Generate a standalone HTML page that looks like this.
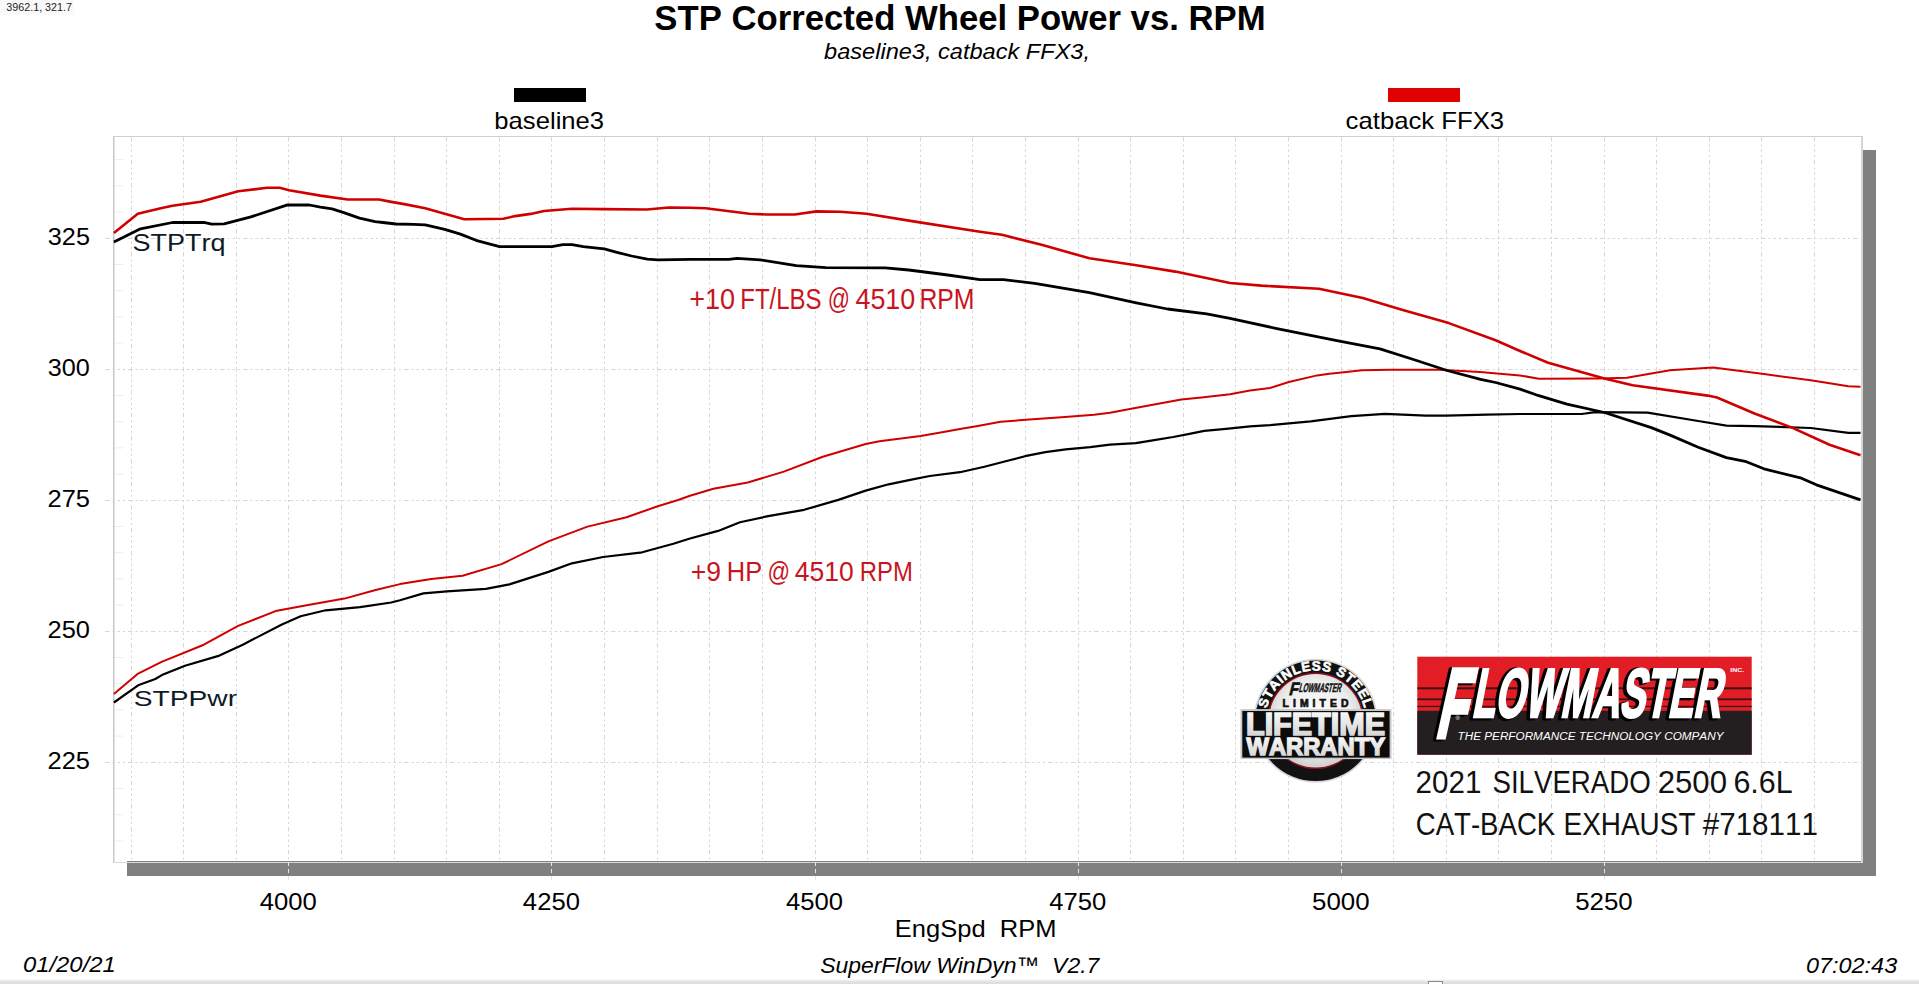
<!DOCTYPE html><html><head><meta charset="utf-8"><title>STP Corrected Wheel Power vs. RPM</title><style>html,body{margin:0;padding:0;background:#fff;overflow:hidden}svg{display:block}text{font-family:"Liberation Sans",Arial,sans-serif;font-kerning:none}</style></head><body>
<svg width="1919" height="984" viewBox="0 0 1919 984">
<rect width="1919" height="984" fill="#fff"/>
<rect x="0" y="0" width="74" height="15" fill="#f9f9f9"/>
<text x="6.39" y="10.9" font-size="10" fill="#222" textLength="65.55" lengthAdjust="spacingAndGlyphs">3962.1, 321.7</text>
<text x="654.3" y="30" font-size="35" fill="#000" textLength="611.32" lengthAdjust="spacingAndGlyphs" font-weight="bold">STP Corrected Wheel Power vs. RPM</text>
<text x="824.07" y="58.9" font-size="21.7" fill="#000" textLength="265.97" lengthAdjust="spacingAndGlyphs" font-style="italic">baseline3, catback FFX3,</text>
<rect x="514" y="88" width="72" height="14" fill="#000"/>
<rect x="1388" y="88" width="72" height="14" fill="#e00000"/>
<text x="494.35" y="128.8" font-size="23.2" fill="#000" textLength="109.78" lengthAdjust="spacingAndGlyphs">baseline3</text>
<text x="1345.61" y="128.9" font-size="23.2" fill="#000" textLength="158.52" lengthAdjust="spacingAndGlyphs">catback FFX3</text>
<rect x="127" y="150" width="1749" height="726" fill="#808080"/>
<rect x="113" y="136" width="1748" height="725" fill="#fff"/>
<path d="M131.5 137V861M183.5 137V861M236.5 137V861M288.5 137V861M341.5 137V861M394.5 137V861M446.5 137V861M499.5 137V861M551.5 137V861M604.5 137V861M657.5 137V861M709.5 137V861M762.5 137V861M815.5 137V861M867.5 137V861M920.5 137V861M972.5 137V861M1025.5 137V861M1078.5 137V861M1130.5 137V861M1183.5 137V861M1235.5 137V861M1288.5 137V861M1341.5 137V861M1393.5 137V861M1446.5 137V861M1498.5 137V861M1551.5 137V861M1604.5 137V861M1656.5 137V861M1709.5 137V861M1761.5 137V861M1814.5 137V861" stroke="#d6d6d6" stroke-width="1" stroke-dasharray="4.5,3,2,3,2.5,3,2,3" fill="none"/>
<path d="M105 238.5H1861M105 369.5H1861M105 500.5H1861M105 631.5H1861M105 762.5H1861" stroke="#d6d6d6" stroke-width="1" stroke-dasharray="4.5,3,2,3,2.5,3,2,3" fill="none"/>
<path d="M113 159.7h10M113 185.9h10M113 212.1h10M113 264.5h10M113 290.7h10M113 316.9h10M113 343.1h10M113 395.5h10M113 421.7h10M113 447.9h10M113 474.1h10M113 526.5h10M113 552.7h10M113 578.9h10M113 605.1h10M113 657.5h10M113 683.7h10M113 709.9h10M113 736.1h10M113 788.5h10M113 814.7h10M113 840.9h10" stroke="#ececec" stroke-width="1" fill="none"/>
<rect x="1861" y="136" width="2" height="727" fill="#d6d6d6"/><rect x="113" y="862" width="1750" height="1" fill="#d8d8d8"/><rect x="113" y="136" width="1.5" height="726" fill="#c8c8c8"/><rect x="113" y="136" width="1750" height="1" fill="#d0d0d0"/>
<text x="47.84" y="244.5" font-size="23" fill="#000" textLength="42.12" lengthAdjust="spacingAndGlyphs">325</text>
<text x="47.84" y="375.5" font-size="23" fill="#000" textLength="42.04" lengthAdjust="spacingAndGlyphs">300</text>
<text x="47.52" y="506.5" font-size="23" fill="#000" textLength="42.45" lengthAdjust="spacingAndGlyphs">275</text>
<text x="47.52" y="637.5" font-size="23" fill="#000" textLength="42.37" lengthAdjust="spacingAndGlyphs">250</text>
<text x="47.52" y="768.5" font-size="23" fill="#000" textLength="42.45" lengthAdjust="spacingAndGlyphs">225</text>
<text x="259.66" y="910.3" font-size="24.3" fill="#000" textLength="57.09" lengthAdjust="spacingAndGlyphs">4000</text>
<text x="522.86" y="910.3" font-size="24.3" fill="#000" textLength="57.09" lengthAdjust="spacingAndGlyphs">4250</text>
<text x="786.06" y="910.3" font-size="24.3" fill="#000" textLength="57.09" lengthAdjust="spacingAndGlyphs">4500</text>
<text x="1049.26" y="910.3" font-size="24.3" fill="#000" textLength="57.09" lengthAdjust="spacingAndGlyphs">4750</text>
<text x="1312.01" y="910.3" font-size="24.3" fill="#000" textLength="57.55" lengthAdjust="spacingAndGlyphs">5000</text>
<text x="1575.21" y="910.3" font-size="24.3" fill="#000" textLength="57.55" lengthAdjust="spacingAndGlyphs">5250</text>
<text x="894.81" y="936.9" font-size="24.1" fill="#000" textLength="161.69" lengthAdjust="spacingAndGlyphs">EngSpd&#160;&#160;RPM</text>
<text x="820.15" y="972.5" font-size="22.7" fill="#000" textLength="279.14" lengthAdjust="spacingAndGlyphs" font-style="italic">SuperFlow WinDyn™&#160;&#160;V2.7</text>
<text x="22.96" y="972.4" font-size="22.2" fill="#000" textLength="92.85" lengthAdjust="spacingAndGlyphs" font-style="italic">01/20/21</text>
<text x="1805.98" y="972.5" font-size="22.2" fill="#000" textLength="91.22" lengthAdjust="spacingAndGlyphs" font-style="italic">07:02:43</text>
<path d="M288.5 862V882M551.5 862V882M815.5 862V882M1078.5 862V882M1341.5 862V882M1604.5 862V882" stroke="#e6e6e6" stroke-width="1" stroke-dasharray="4,3" fill="none"/>
<polyline points="113.9,702.5 138.1,685.3 155.3,679.0 163.1,674.4 185.0,665.8 219.4,655.6 242.8,644.7 281.9,624.4 300.6,616.2 325.6,610.3 360.0,607.2 391.2,602.5 400.0,600.3 423.4,593.4 446.9,591.4 485.9,588.8 509.4,584.4 548.4,571.9 571.9,563.3 603.1,557.0 642.2,552.3 673.4,543.8 690.0,538.5 718.1,530.9 740.0,522.3 768.1,516.1 804.1,509.8 838.3,499.9 865.7,490.6 888.6,484.3 911.5,479.6 929.8,476.0 960.0,472.2 984.4,466.8 1004.7,461.5 1025.0,456.2 1045.4,452.1 1065.7,449.3 1090.1,447.2 1110.0,444.6 1135.8,443.1 1151.2,440.7 1173.2,437.0 1189.4,433.8 1204.1,430.9 1226.0,428.9 1250.0,426.4 1270.0,425.2 1310.7,421.4 1351.3,416.2 1385.2,413.9 1425.8,415.7 1446.2,415.7 1486.8,414.6 1520.0,414.0 1581.9,414.0 1595.0,412.2 1647.6,412.6 1698.2,421.0 1726.4,425.7 1754.5,426.1 1810.8,428.0 1848.3,432.8 1860.5,432.8" fill="none" stroke="#000" stroke-width="2.2" stroke-linejoin="round"/>
<polyline points="113.9,693.9 138.1,673.6 161.6,661.9 203.8,644.7 238.1,625.9 275.6,611.1 305.3,605.6 344.4,598.6 375.6,590.0 400.0,584.1 431.2,578.9 462.5,575.8 501.6,564.1 548.4,541.4 587.5,526.6 626.6,517.2 657.8,506.2 678.1,500.0 690.0,495.8 713.4,488.8 747.8,482.5 783.8,471.6 822.8,456.8 865.7,444.0 879.5,441.2 920.6,436.1 943.5,432.0 960.0,428.9 976.3,426.2 1000.7,421.7 1029.1,419.6 1061.6,417.2 1077.9,416.0 1094.1,414.7 1110.0,412.7 1132.5,408.5 1181.3,399.5 1201.6,397.5 1230.0,394.2 1250.0,390.6 1270.0,388.0 1288.8,382.0 1317.2,375.4 1329.4,373.8 1341.6,372.6 1362.0,370.2 1390.0,369.8 1439.4,369.8 1480.0,371.9 1520.0,375.4 1538.8,378.8 1598.8,378.4 1626.9,377.8 1670.0,370.3 1713.2,367.5 1763.9,374.1 1810.8,380.3 1848.3,386.3 1860.5,386.7" fill="none" stroke="#d00000" stroke-width="2" stroke-linejoin="round"/>
<polyline points="113.9,242.0 140.5,228.8 172.5,222.5 203.8,222.3 211.6,224.2 224.1,223.8 250.0,217.2 287.5,204.9 309.4,205.0 320.4,207.2 332.1,208.9 343.8,212.6 359.5,218.1 375.1,221.6 382.9,222.5 396.1,224.0 413.5,224.3 425.2,224.9 444.7,229.4 460.4,234.1 476.0,240.3 499.5,246.6 551.9,246.6 562.8,244.6 572.2,244.6 583.2,246.6 604.3,248.9 616.0,252.1 631.6,256.0 647.3,259.1 657.9,259.9 690.0,259.4 729.0,259.4 736.9,258.3 760.3,259.8 796.3,265.6 825.9,267.7 885.3,267.8 908.8,270.0 947.8,275.0 980.0,279.7 1003.4,279.7 1034.7,283.3 1089.4,292.7 1136.3,302.8 1167.5,309.0 1206.6,313.8 1230.0,318.4 1276.9,328.6 1339.4,341.1 1380.0,348.9 1413.5,359.5 1447.1,370.5 1480.6,379.4 1495.6,382.5 1520.0,389.1 1538.8,395.7 1566.9,404.1 1604.4,412.5 1651.3,427.6 1670.1,435.1 1698.2,447.3 1726.4,457.6 1745.1,461.3 1763.9,468.8 1801.4,478.2 1816.4,484.8 1860.5,499.8" fill="none" stroke="#000" stroke-width="2.8" stroke-linejoin="round"/>
<polyline points="113.9,233.0 137.8,213.8 160.8,208.2 172.5,205.8 200.7,201.8 238.2,191.2 267.2,187.8 279.7,187.8 289.1,190.2 320.4,195.6 347.7,199.5 379.0,199.5 390.0,201.6 405.6,204.4 425.2,208.3 444.7,213.8 464.3,219.2 503.4,218.8 515.1,216.1 530.7,213.9 544.0,211.0 571.9,208.8 603.1,209.1 647.0,209.5 668.9,207.5 690.0,207.8 705.6,208.3 749.4,213.8 766.6,214.5 794.7,214.5 816.6,211.4 840.0,211.7 866.6,213.8 916.6,221.9 980.0,231.7 1001.9,234.8 1042.5,245.0 1089.4,258.3 1136.3,265.3 1175.3,271.6 1230.0,283.0 1261.3,285.6 1319.0,288.8 1362.8,298.1 1401.9,309.8 1448.8,323.1 1495.6,340.3 1520.0,351.0 1548.1,362.8 1604.4,378.4 1632.6,385.3 1707.6,395.6 1717.0,397.5 1754.5,413.5 1792.0,427.6 1829.5,444.8 1860.5,455.3" fill="none" stroke="#d00000" stroke-width="2.6" stroke-linejoin="round"/>
<text x="132.57" y="250.6" font-size="23.2" fill="#0d1b26" textLength="92.95" lengthAdjust="spacingAndGlyphs">STPTrq</text>
<text x="133.72" y="706.4" font-size="22.7" fill="#0d1b26" textLength="103.35" lengthAdjust="spacingAndGlyphs">STPPwr</text>
<text x="689.18" y="308.9" font-size="28.6" fill="#c8141e" textLength="45.98" lengthAdjust="spacingAndGlyphs">+10</text><text x="740.23" y="308.9" font-size="28.6" fill="#c8141e" textLength="81.37" lengthAdjust="spacingAndGlyphs">FT/LBS</text><text x="827.68" y="308.9" font-size="28.6" fill="#c8141e" textLength="22.21" lengthAdjust="spacingAndGlyphs">@</text><text x="855.48" y="308.9" font-size="28.6" fill="#c8141e" textLength="59.77" lengthAdjust="spacingAndGlyphs">4510</text><text x="919.47" y="308.9" font-size="28.6" fill="#c8141e" textLength="54.96" lengthAdjust="spacingAndGlyphs">RPM</text>
<text x="690.7" y="581" font-size="28.3" fill="#c8141e" textLength="30.25" lengthAdjust="spacingAndGlyphs">+9</text><text x="726.81" y="581" font-size="28.3" fill="#c8141e" textLength="35.33" lengthAdjust="spacingAndGlyphs">HP</text><text x="767.45" y="581" font-size="28.3" fill="#c8141e" textLength="22.57" lengthAdjust="spacingAndGlyphs">@</text><text x="794.69" y="581" font-size="28.3" fill="#c8141e" textLength="58.94" lengthAdjust="spacingAndGlyphs">4510</text><text x="859.74" y="581" font-size="28.3" fill="#c8141e" textLength="53.12" lengthAdjust="spacingAndGlyphs">RPM</text>
<text x="1415.61" y="793" font-size="31.3" fill="#111" textLength="65.83" lengthAdjust="spacingAndGlyphs">2021</text><text x="1492.44" y="793" font-size="31.3" fill="#111" textLength="158.38" lengthAdjust="spacingAndGlyphs">SILVERADO</text><text x="1657.73" y="793" font-size="31.3" fill="#111" textLength="69.28" lengthAdjust="spacingAndGlyphs">2500</text><text x="1733.45" y="793" font-size="31.3" fill="#111" textLength="59.26" lengthAdjust="spacingAndGlyphs">6.6L</text>
<text x="1415.7" y="834.6" font-size="31.5" fill="#111" textLength="139.61" lengthAdjust="spacingAndGlyphs">CAT-BACK</text><text x="1563.61" y="834.6" font-size="31.5" fill="#111" textLength="131.83" lengthAdjust="spacingAndGlyphs">EXHAUST</text><text x="1702.77" y="834.6" font-size="31.5" fill="#111" textLength="115.07" lengthAdjust="spacingAndGlyphs">#718111</text>
<defs><linearGradient id="bb" x1="0" y1="0" x2="0" y2="1"><stop offset="0" stop-color="#f4f4f4"/><stop offset="0.5" stop-color="#e2e2e2"/><stop offset="1" stop-color="#dcdcdc"/></linearGradient></defs><rect x="0" y="979.5" width="1919" height="4.5" fill="url(#bb)"/>
<rect x="1428.5" y="981.5" width="14" height="4" fill="#fff" stroke="#888" stroke-width="1"/>
<defs>
<radialGradient id="wgInner" cx="50%" cy="45%" r="55%"><stop offset="0" stop-color="#ffffff"/><stop offset="0.7" stop-color="#ececec"/><stop offset="1" stop-color="#cfcfcf"/></radialGradient>
<linearGradient id="wgText" x1="0" y1="0" x2="0" y2="1"><stop offset="0" stop-color="#ffffff"/><stop offset="1" stop-color="#cfcfcf"/></linearGradient>
<path id="arcSS" d="M1266.8,708.6 A50.3,50.3 0 0 1 1364.4,708.6"/>
</defs>
<g id="badge">
<circle cx="1315.6" cy="720.8" r="62" fill="#d9d9d9"/>
<circle cx="1315.6" cy="720.8" r="60.3" fill="#121212"/>
<circle cx="1315.6" cy="720.8" r="48.3" fill="#8a1020"/>
<circle cx="1315.6" cy="720.8" r="46.8" fill="url(#wgInner)"/>
<text font-size="13.4" font-weight="bold" fill="#fff" stroke="#fff" stroke-width="0.6"><textPath href="#arcSS" startOffset="0" textLength="133" lengthAdjust="spacing">STAINLESS STEEL</textPath></text>
<g transform="translate(0 692) skewX(-14) translate(0 -692)"><text x="1289.5" y="695.5" font-size="18" font-weight="bold" fill="#111" stroke="#111" stroke-width="0.8" textLength="9" lengthAdjust="spacingAndGlyphs">F</text><text x="1298.5" y="691.6" font-size="12.4" font-weight="bold" fill="#111" stroke="#111" stroke-width="0.5" textLength="42" lengthAdjust="spacingAndGlyphs">LOWMASTER</text></g>
<text x="1282.5" y="707.4" font-size="10.4" font-weight="bold" fill="#111" stroke="#111" stroke-width="0.7" textLength="66" lengthAdjust="spacing">LIMITED</text>
<rect x="1240.5" y="709.1" width="151" height="50" fill="#c8c8c8"/>
<rect x="1242.3" y="711" width="147.3" height="46.6" fill="#0c0c0c"/>
<text x="1246" y="734.8" font-size="30.6" font-weight="bold" fill="url(#wgText)" stroke="url(#wgText)" stroke-width="1.6" textLength="139" lengthAdjust="spacingAndGlyphs">LIFETIME</text>
<text x="1246.5" y="755.4" font-size="24.3" font-weight="bold" fill="url(#wgText)" stroke="url(#wgText)" stroke-width="1.4" textLength="138.5" lengthAdjust="spacingAndGlyphs">WARRANTY</text>
</g>
<g id="fmlogo">
<rect x="1417.3" y="656.7" width="334.4" height="98" fill="#e21d25"/>
<rect x="1417.3" y="687.3" width="334.4" height="2" fill="#3a1416"/>
<rect x="1417.3" y="698.4" width="334.4" height="1.8" fill="#3a1416"/>
<rect x="1417.3" y="705.8" width="334.4" height="1.3" fill="#3a1416"/>
<rect x="1417.3" y="710.8" width="334.4" height="43.9" fill="#231f20"/>
<g>
<text x="1434.2" y="737.5" font-size="97.7" font-weight="bold" fill="#000" stroke="#000" stroke-width="7" stroke-linejoin="round" transform="translate(-3 1) translate(0 740) skewX(-12.5) translate(0 -740)" textLength="29.4" lengthAdjust="spacingAndGlyphs">F</text>
<text x="1434.2" y="737.5" font-size="97.7" font-weight="bold" fill="#fff" stroke="#fff" stroke-width="5" transform="translate(0 740) skewX(-12.5) translate(0 -740)" textLength="29.4" lengthAdjust="spacingAndGlyphs">F</text>
<text x="1470.9" y="716.7" font-size="69.2" font-weight="bold" fill="#000" stroke="#000" stroke-width="5" stroke-linejoin="round" transform="translate(-3 1) translate(0 718) skewX(-11) translate(0 -718)" textLength="249" lengthAdjust="spacingAndGlyphs">LOWMASTER</text>
<text x="1470.9" y="716.7" font-size="69.2" font-weight="bold" fill="#fff" stroke="#fff" stroke-width="2.6" transform="translate(0 718) skewX(-11) translate(0 -718)" textLength="249" lengthAdjust="spacingAndGlyphs">LOWMASTER</text>
</g>
<text x="1455.5" y="720" font-size="6" fill="#fff">®</text>
<text x="1730.3" y="672.3" font-size="5.2" font-weight="bold" fill="#fff" textLength="14" lengthAdjust="spacingAndGlyphs">INC.</text>
<text x="1457.5" y="740" font-size="11.7" font-style="italic" fill="#fff" textLength="266" lengthAdjust="spacingAndGlyphs">THE PERFORMANCE TECHNOLOGY COMPANY</text>
</g>

</svg></body></html>
